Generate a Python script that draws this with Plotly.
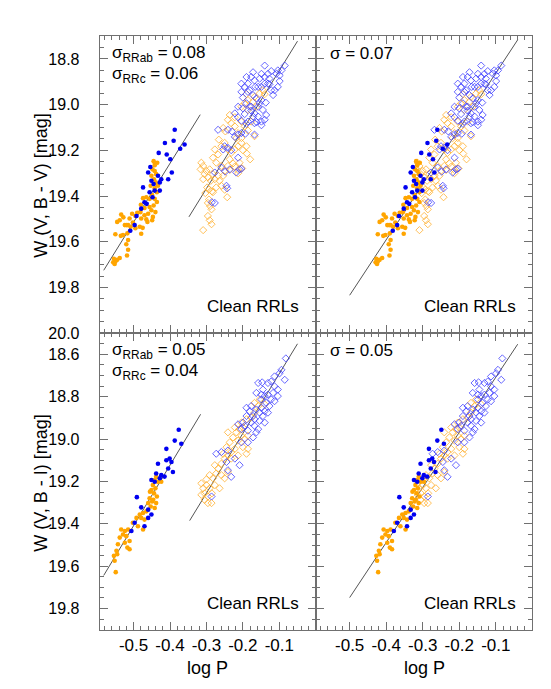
import plotly.graph_objects as go

# ---------------- data ----------------
FUND_SHIFT = 0.127  # fundamentalisation of RRc periods in the right-hand panels

# W(V, B-V): RRc (filled dots)
rrc_org_logp_bv = [-0.445, -0.442, -0.448, -0.442, -0.438, -0.451, -0.444, -0.439, -0.453, -0.442,
                   -0.436, -0.449, -0.442, -0.436, -0.445, -0.456, -0.451, -0.440, -0.460, -0.447,
                   -0.449, -0.462, -0.474, -0.480, -0.470, -0.481, -0.490, -0.495, -0.479, -0.470,
                   -0.465, -0.504, -0.511, -0.502, -0.515, -0.508, -0.495, -0.483, -0.475, -0.479,
                   -0.534, -0.528, -0.538, -0.545, -0.524, -0.519, -0.517, -0.529, -0.550, -0.535,
                   -0.515, -0.520, -0.515, -0.518, -0.554, -0.550, -0.545, -0.556, -0.552, -0.538,
                   -0.456, -0.465, -0.433, -0.435, -0.442]
rrc_org_w_bv = [19.247, 19.254, 19.283, 19.290, 19.304, 19.311, 19.326, 19.340, 19.355, 19.366,
                19.383, 19.395, 19.412, 19.426, 19.441, 19.448, 19.462, 19.470, 19.477, 19.491,
                19.506, 19.513, 19.409, 19.438, 19.452, 19.470, 19.473, 19.487, 19.498, 19.484,
                19.502, 19.477, 19.498, 19.516, 19.527, 19.534, 19.541, 19.534, 19.539, 19.565,
                19.481, 19.493, 19.506, 19.513, 19.527, 19.527, 19.563, 19.570, 19.567, 19.574,
                19.592, 19.611, 19.635, 19.660, 19.674, 19.686, 19.679, 19.690, 19.697, 19.671,
                19.412, 19.405, 19.355, 19.254, 19.265]
rrc_blu_logp_bv = [-0.387, -0.414, -0.390, -0.431, -0.409, -0.372, -0.360, -0.399, -0.395, -0.405,
                   -0.424, -0.454, -0.460, -0.474, -0.451, -0.445, -0.428, -0.456, -0.448, -0.464,
                   -0.479, -0.492, -0.497, -0.509, -0.470, -0.442, -0.433, -0.428]
rrc_blu_w_bv = [19.110, 19.168, 19.158, 19.211, 19.218, 19.193, 19.174, 19.239, 19.297, 19.326,
                19.326, 19.273, 19.297, 19.362, 19.333, 19.347, 19.376, 19.383, 19.405, 19.434,
                19.455, 19.487, 19.527, 19.552, 19.427, 19.376, 19.311, 19.340]

# W(V, B-V): RRab (open diamonds)
rrab_org_logp_bv = [-0.314, -0.309, -0.316, -0.300, -0.291, -0.305, -0.296, -0.309, -0.288, -0.277,
                    -0.268, -0.282, -0.298, -0.293, -0.285, -0.303, -0.293, -0.282, -0.273, -0.264,
                    -0.254, -0.250, -0.259, -0.273, -0.282, -0.268, -0.277, -0.259, -0.266, -0.250,
                    -0.241, -0.232, -0.236, -0.227, -0.222, -0.213, -0.209, -0.241, -0.222, -0.213,
                    -0.204, -0.200, -0.190, -0.204, -0.213, -0.222, -0.232, -0.241, -0.236, -0.222,
                    -0.204, -0.195, -0.186, -0.218, -0.248, -0.254, -0.296, -0.290, -0.286, -0.296,
                    -0.291, -0.286, -0.309, -0.259, -0.250, -0.243, -0.236, -0.213, -0.202, -0.189,
                    -0.180, -0.168, -0.177, -0.163, -0.172, -0.186, -0.168, -0.154, -0.145, -0.140,
                    -0.204, -0.195, -0.186, -0.190]
rrab_org_w_bv = [19.254, 19.268, 19.283, 19.290, 19.283, 19.304, 19.318, 19.326, 19.333, 19.326,
                 19.311, 19.304, 19.362, 19.372, 19.379, 19.387, 19.415, 19.383, 19.362, 19.333,
                 19.311, 19.290, 19.268, 19.254, 19.232, 19.218, 19.196, 19.182, 19.153, 19.167,
                 19.196, 19.211, 19.239, 19.257, 19.271, 19.286, 19.254, 19.268, 19.196, 19.182,
                 19.167, 19.199, 19.182, 19.146, 19.124, 19.095, 19.081, 19.066, 19.045, 19.055,
                 19.074, 19.095, 19.113, 19.146, 19.117, 19.102, 19.430, 19.444, 19.458, 19.487,
                 19.506, 19.523, 19.549, 19.355, 19.372, 19.405, 19.286, 19.300, 19.279, 19.214,
                 19.239, 19.138, 19.074, 19.009, 18.987, 18.980, 18.966, 18.951, 18.937, 18.954,
                 19.009, 18.994, 19.023, 18.954]
rrab_blu_logp_bv = [-0.268, -0.241, -0.230, -0.213, -0.222, -0.204, -0.193, -0.241, -0.232, -0.213,
                    -0.209, -0.259, -0.248, -0.277, -0.254, -0.250, -0.285, -0.277, -0.245, -0.243,
                    -0.186, -0.190, -0.204, -0.168, -0.177, -0.168, -0.158, -0.149, -0.140, -0.136,
                    -0.145, -0.158, -0.154, -0.149, -0.163, -0.172, -0.181, -0.195, -0.186, -0.204,
                    -0.190, -0.177, -0.168, -0.158, -0.149, -0.140, -0.131, -0.127, -0.122, -0.117,
                    -0.113, -0.104, -0.099, -0.108, -0.099, -0.094, -0.104, -0.122, -0.131, -0.140,
                    -0.149, -0.154, -0.140, -0.172, -0.186, -0.166, -0.204, -0.200, -0.190, -0.181,
                    -0.177, -0.172, -0.200, -0.195, -0.213, -0.222, -0.213, -0.127, -0.085, -0.137,
                    -0.149, -0.163, -0.168, -0.236, -0.204, -0.218]
rrab_blu_w_bv = [19.110, 19.110, 19.117, 19.131, 19.141, 19.124, 19.127, 19.189, 19.199, 19.232,
                 19.283, 19.275, 19.293, 19.297, 19.196, 19.182, 19.427, 19.430, 19.355, 19.366,
                 19.074, 19.084, 19.070, 19.081, 19.009, 19.038, 19.052, 19.074, 19.066, 19.045,
                 19.023, 19.009, 18.994, 18.980, 18.973, 18.958, 18.937, 18.922, 18.908, 18.908,
                 18.879, 18.879, 18.894, 18.922, 18.922, 18.908, 18.908, 18.886, 18.937, 18.958,
                 18.937, 18.922, 18.897, 18.865, 18.872, 18.850, 18.850, 18.853, 18.865, 18.829,
                 18.865, 18.886, 18.879, 18.858, 18.944, 18.922, 18.944, 18.969, 18.994, 19.009,
                 19.026, 19.052, 19.016, 19.041, 19.009, 19.038, 19.055, 18.911, 18.829, 18.991,
                 19.090, 19.076, 19.131, 19.283, 19.280, 19.297]

# W(V, B-I): RRc (filled dots)
rrc_org_logp_bi = [-0.438, -0.442, -0.433, -0.447, -0.440, -0.451, -0.444, -0.436, -0.456, -0.449,
                   -0.438, -0.460, -0.453, -0.442, -0.465, -0.474, -0.483, -0.479, -0.470, -0.492,
                   -0.502, -0.488, -0.474, -0.515, -0.524, -0.534, -0.529, -0.538, -0.520, -0.511,
                   -0.524, -0.517, -0.511, -0.543, -0.547, -0.554, -0.545, -0.552, -0.549, -0.424,
                   -0.446, -0.455]
rrc_org_w_bi = [19.178, 19.193, 19.201, 19.217, 19.232, 19.240, 19.256, 19.271, 19.279, 19.294,
                19.302, 19.302, 19.318, 19.325, 19.341, 19.349, 19.356, 19.372, 19.380, 19.372,
                19.395, 19.411, 19.427, 19.427, 19.434, 19.427, 19.450, 19.465, 19.458, 19.481,
                19.489, 19.512, 19.520, 19.496, 19.527, 19.551, 19.543, 19.574, 19.628, 19.201,
                19.286, 19.248]
rrc_blu_logp_bi = [-0.376, -0.387, -0.369, -0.410, -0.401, -0.396, -0.410, -0.405, -0.392, -0.433,
                   -0.438, -0.424, -0.428, -0.451, -0.442, -0.491, -0.479, -0.460, -0.451, -0.460,
                   -0.506, -0.470, -0.497, -0.415]
rrc_blu_w_bi = [18.956, 19.007, 19.022, 19.046, 19.092, 19.108, 19.100, 19.139, 19.155, 19.116,
                19.162, 19.170, 19.185, 19.193, 19.201, 19.274, 19.322, 19.333, 19.356, 19.372,
                19.434, 19.411, 19.395, 19.177]

# W(V, B-I): RRab (open diamonds)
rrab_org_logp_bi = [-0.314, -0.309, -0.300, -0.305, -0.314, -0.296, -0.305, -0.296, -0.286, -0.291,
                    -0.285, -0.277, -0.291, -0.282, -0.273, -0.268, -0.259, -0.277, -0.250, -0.254,
                    -0.241, -0.232, -0.222, -0.213, -0.232, -0.245, -0.236, -0.227, -0.218, -0.209,
                    -0.200, -0.204, -0.195, -0.186, -0.213, -0.241, -0.222, -0.204, -0.190, -0.177,
                    -0.168, -0.158, -0.168, -0.154, -0.140, -0.186, -0.200, -0.190, -0.259, -0.250,
                    -0.241, -0.264, -0.300]
rrab_org_w_bi = [19.209, 19.232, 19.217, 19.256, 19.263, 19.271, 19.287, 19.302, 19.302, 19.232,
                 19.256, 19.217, 19.170, 19.185, 19.162, 19.139, 19.116, 19.123, 19.092, 19.069,
                 19.077, 19.061, 19.046, 19.077, 19.092, 19.038, 19.015, 18.992, 18.968, 18.953,
                 18.945, 18.984, 18.999, 18.984, 19.007, 18.968, 18.945, 18.922, 18.906, 18.898,
                 18.875, 18.844, 18.829, 18.813, 18.836, 19.046, 19.038, 19.069, 19.170, 19.185,
                 19.155, 19.232, 19.190]
rrab_blu_logp_bi = [-0.273, -0.259, -0.241, -0.245, -0.241, -0.232, -0.286, -0.222, -0.209, -0.204,
                    -0.186, -0.195, -0.177, -0.168, -0.163, -0.158, -0.172, -0.181, -0.190, -0.177,
                    -0.163, -0.154, -0.149, -0.145, -0.140, -0.131, -0.127, -0.136, -0.149, -0.140,
                    -0.131, -0.122, -0.113, -0.104, -0.117, -0.113, -0.104, -0.122, -0.131, -0.113,
                    -0.099, -0.094, -0.082, -0.085, -0.140, -0.154, -0.168, -0.190, -0.200, -0.204,
                    -0.213, -0.186, -0.172, -0.149, -0.145, -0.163, -0.158, -0.147]
rrab_blu_w_bi = [19.069, 19.061, 19.054, 19.108, 19.147, 19.178, 19.271, 19.092, 19.123, 19.015,
                 18.960, 18.937, 18.922, 18.937, 18.968, 18.953, 18.891, 18.868, 18.852, 18.844,
                 18.860, 18.875, 18.852, 18.891, 18.868, 18.875, 18.844, 18.829, 18.813, 18.797,
                 18.790, 18.813, 18.821, 18.797, 18.782, 18.751, 18.766, 18.728, 18.735, 18.704,
                 18.689, 18.673, 18.619, 18.720, 18.922, 18.914, 18.906, 18.891, 18.922, 18.953,
                 18.930, 19.015, 18.992, 18.790, 18.766, 18.782, 18.735, 18.732]

# PW fits: (zero point, slope, logP start, logP end)
fit_bv_rrc = (18.229, -2.57, -0.582, -0.317)
fit_bv_rrab = (18.593, -2.58, -0.348, -0.050)
fit_bv_all = (18.619, -2.43, -0.500, -0.040)
fit_bi_rrc = (17.979, -2.86, -0.582, -0.316)
fit_bi_rrab = (18.409, -2.82, -0.346, -0.050)
fit_bi_all = (18.448, -2.60, -0.500, -0.040)

sigma_bv = ("0.08", "0.06", "0.07")
sigma_bi = ("0.05", "0.04", "0.05")

x_ticks = [-0.5, -0.4, -0.3, -0.2, -0.1]
y_ticks_bv = [18.8, 19.0, 19.2, 19.4, 19.6, 19.8, 20.0]
y_ticks_bi = [18.6, 18.8, 19.0, 19.2, 19.4, 19.6, 19.8]

# ---------------- styling ----------------
ORANGE = "#FFA500"
BLUE = "#0000F0"
BLUE_OPEN = "#4040FF"
ORANGE_OPEN = "#FFB030"
AXC = "#707070"
FONT = "Liberation Sans"

fig = go.Figure()


def shifted(vals):
    return [v + FUND_SHIFT for v in vals]


def add_points(xa, ya, rrc_o, rrc_b, rrab_o, rrab_b, fund):
    xs, ys = "x" + xa, "y" + ya
    fig.add_trace(go.Scatter(x=rrab_o[0], y=rrab_o[1], mode="markers", xaxis=xs, yaxis=ys,
                             marker=dict(symbol="diamond-open", size=5.5, color=ORANGE_OPEN,
                                         line=dict(width=0.8, color=ORANGE_OPEN)), showlegend=False))
    fig.add_trace(go.Scatter(x=rrab_b[0], y=rrab_b[1], mode="markers", xaxis=xs, yaxis=ys,
                             marker=dict(symbol="diamond-open", size=5.5, color=BLUE_OPEN,
                                         line=dict(width=0.8, color=BLUE_OPEN)), showlegend=False))
    xo = shifted(rrc_o[0]) if fund else rrc_o[0]
    xb = shifted(rrc_b[0]) if fund else rrc_b[0]
    fig.add_trace(go.Scatter(x=xo, y=rrc_o[1], mode="markers", xaxis=xs, yaxis=ys,
                             marker=dict(symbol="circle", size=4.6, color=ORANGE, line=dict(width=0)),
                             showlegend=False))
    fig.add_trace(go.Scatter(x=xb, y=rrc_b[1], mode="markers", xaxis=xs, yaxis=ys,
                             marker=dict(symbol="circle", size=4.6, color=BLUE, line=dict(width=0)),
                             showlegend=False))


def add_fit(xa, ya, fit):
    zp, sl, x0, x1 = fit
    fig.add_trace(go.Scatter(x=[x0, x1], y=[zp + sl * x0, zp + sl * x1], mode="lines",
                             xaxis="x" + xa, yaxis="y" + ya,
                             line=dict(color="#555555", width=1), showlegend=False))


bv = dict(rrc_o=(rrc_org_logp_bv, rrc_org_w_bv), rrc_b=(rrc_blu_logp_bv, rrc_blu_w_bv),
          rrab_o=(rrab_org_logp_bv, rrab_org_w_bv), rrab_b=(rrab_blu_logp_bv, rrab_blu_w_bv))
bi = dict(rrc_o=(rrc_org_logp_bi, rrc_org_w_bi), rrc_b=(rrc_blu_logp_bi, rrc_blu_w_bi),
          rrab_o=(rrab_org_logp_bi, rrab_org_w_bi), rrab_b=(rrab_blu_logp_bi, rrab_blu_w_bi))

# panel 1: top-left, 2: top-right, 3: bottom-left, 4: bottom-right
add_fit("", "", fit_bv_rrc)
add_fit("", "", fit_bv_rrab)
add_points("", "", fund=False, **bv)
add_fit("2", "2", fit_bv_all)
add_points("2", "2", fund=True, **bv)
add_fit("3", "3", fit_bi_rrc)
add_fit("3", "3", fit_bi_rrab)
add_points("3", "3", fund=False, **bi)
add_fit("4", "4", fit_bi_all)
add_points("4", "4", fund=True, **bi)

W = 551
H = 689
XL = [91.7 / W, 307.7 / W]
XR = [307.7 / W, 524.3 / W]
YT = [1 - 329.5 / H, 1 - 28.5 / H]
YB = [1 - 630 / H, 1 - 329.5 / H]

XTICKFONT = dict(family=FONT, size=17, color="black")
YTICKFONT = dict(family=FONT, size=16, color="black")


def xaxis(domain, anchor, labels):
    return dict(domain=domain, anchor=anchor, range=[-0.593, 0.0],
                tickmode="array", tickvals=x_ticks, ticktext=["%.1f" % v for v in x_ticks],
                showticklabels=labels, ticks="inside", ticklen=8, tickwidth=1, tickcolor=AXC,
                showline=True, linecolor=AXC, linewidth=1, mirror="ticks",
                showgrid=False, zeroline=False, tickfont=XTICKFONT, ticklabelstandoff=0,
                minor=dict(tickmode="linear", tick0=0, dtick=0.02, ticks="inside", ticklen=4,
                           tickcolor=AXC, showgrid=False))


def yaxis(domain, anchor, rng, tv, labels):
    return dict(domain=domain, anchor=anchor, range=rng,
                tickmode="array", tickvals=tv, ticktext=["%.1f" % v for v in tv],
                showticklabels=labels, ticks="inside", ticklen=8, tickwidth=1, tickcolor=AXC,
                showline=True, linecolor=AXC, linewidth=1, mirror="ticks",
                showgrid=False, zeroline=False, tickfont=YTICKFONT, ticklabelstandoff=16,
                minor=dict(tickmode="linear", tick0=18.5, dtick=0.05, ticks="inside", ticklen=4,
                           tickcolor=AXC, showgrid=False))


fig.update_layout(
    width=W, height=H, margin=dict(l=0, r=0, t=0, b=0),
    paper_bgcolor="white", plot_bgcolor="white", showlegend=False,
    font=dict(family=FONT, color="black"),
    xaxis=xaxis(XL, "y", False), yaxis=yaxis(YT, "x", [20.0, 18.7], y_ticks_bv, True),
    xaxis2=xaxis(XR, "y2", False), yaxis2=yaxis(YT, "x2", [20.0, 18.7], y_ticks_bv, False),
    xaxis3=xaxis(XL, "y3", True), yaxis3=yaxis(YB, "x3", [19.9, 18.5], y_ticks_bi, True),
    xaxis4=xaxis(XR, "y4", True), yaxis4=yaxis(YB, "x4", [19.9, 18.5], y_ticks_bi, False),
)

ann = []
TXT = dict(family=FONT, size=17, color="black")


def panel_text(xref, yref, sig, two):
    if two:
        ann.append(dict(xref=xref + " domain", yref=yref + " domain", x=0.048, y=0.94,
                        text="σ<sub>RRab</sub> = " + sig[0], showarrow=False,
                        xanchor="left", yanchor="middle", font=TXT))
        ann.append(dict(xref=xref + " domain", yref=yref + " domain", x=0.048, y=0.868,
                        text="σ<sub>RRc</sub> = " + sig[1], showarrow=False,
                        xanchor="left", yanchor="middle", font=TXT))
    else:
        ann.append(dict(xref=xref + " domain", yref=yref + " domain", x=0.055, y=0.94,
                        text="σ = " + sig[2], showarrow=False,
                        xanchor="left", yanchor="middle", font=TXT))
    ann.append(dict(xref=xref + " domain", yref=yref + " domain", x=0.932, y=0.09,
                    text="Clean RRLs", showarrow=False, xanchor="right", yanchor="middle",
                    font=dict(family=FONT, size=17, color="black")))


panel_text("x", "y", sigma_bv, True)
panel_text("x2", "y2", sigma_bv, False)
panel_text("x3", "y3", sigma_bi, True)
panel_text("x4", "y4", sigma_bi, False)

TITLE = dict(family=FONT, size=18, color="black")
ann.append(dict(xref="paper", yref="paper", x=33 / W, y=1 - 180 / H, text="W (V, B - V) [mag]",
                textangle=-90, showarrow=False, xanchor="center", yanchor="middle", font=TITLE))
ann.append(dict(xref="paper", yref="paper", x=33 / W, y=1 - 482 / H, text="W (V, B - I) [mag]",
                textangle=-90, showarrow=False, xanchor="center", yanchor="middle", font=TITLE))
ann.append(dict(xref="paper", yref="paper", x=199.7 / W, y=1 - 669 / H, text="log P",
                showarrow=False, xanchor="center", yanchor="middle", font=TITLE))
ann.append(dict(xref="paper", yref="paper", x=416 / W, y=1 - 669 / H, text="log P",
                showarrow=False, xanchor="center", yanchor="middle", font=TITLE))
fig.update_layout(annotations=ann)

fig.write_html("out.html")
